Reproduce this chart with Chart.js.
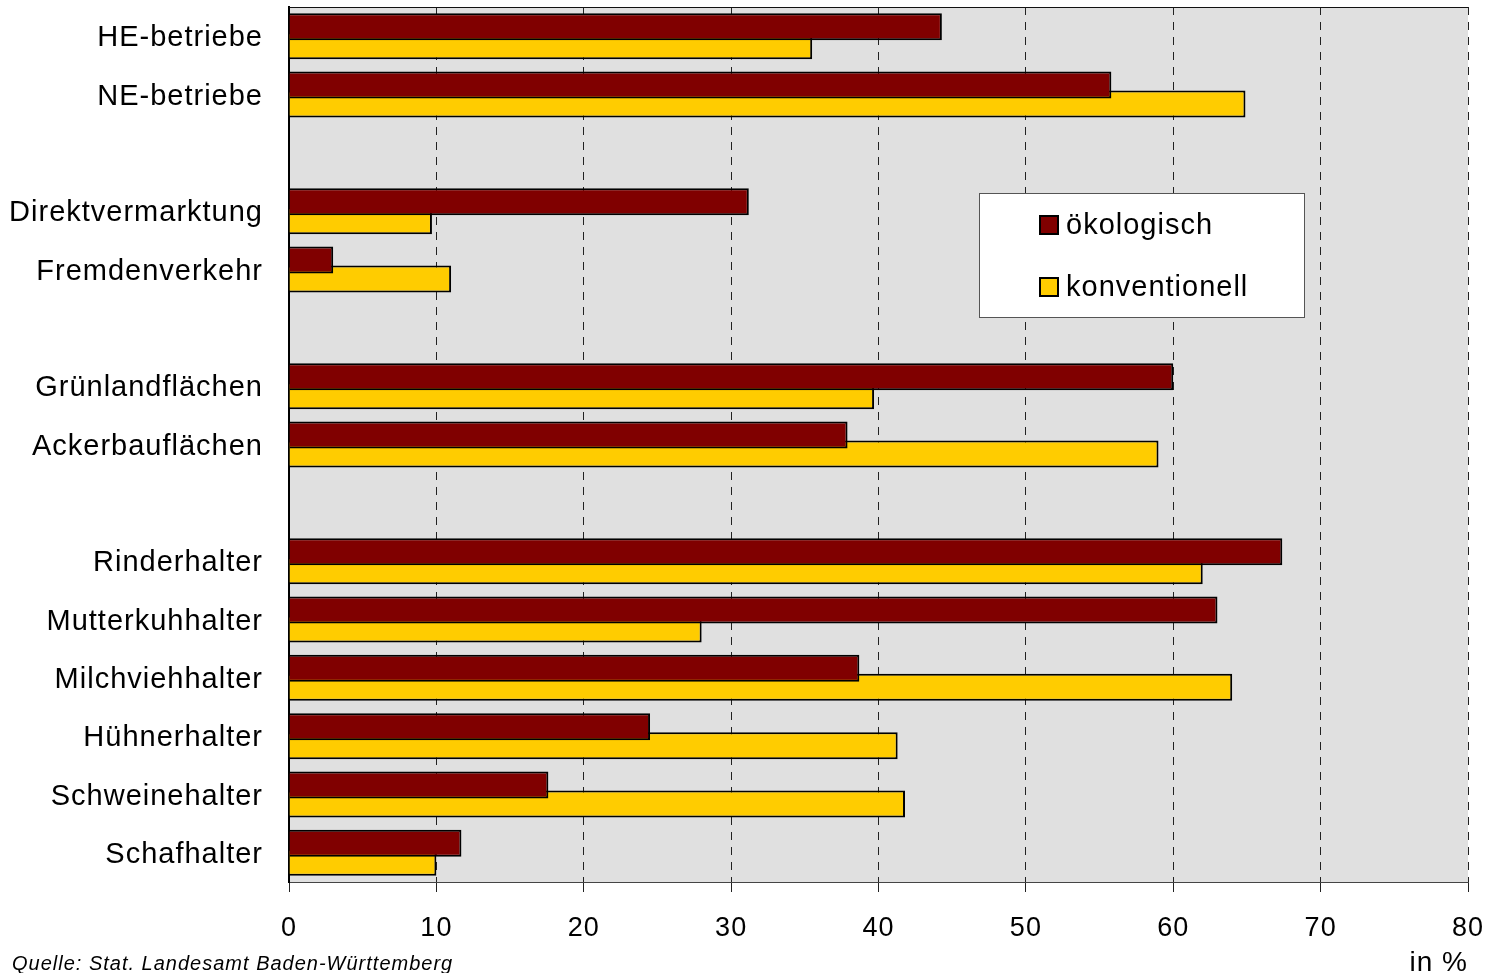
<!DOCTYPE html>
<html>
<head>
<meta charset="utf-8">
<script src="https://cdn.jsdelivr.net/npm/chart.js@4/dist/chart.umd.min.js"></script>
<style>
  html, body { margin: 0; padding: 0; background: #fff; }
  #wrap { position: relative; width: 1498px; height: 973px; }
</style>
</head>
<body>
<div id="wrap"><canvas id="myChart"></canvas></div>
<script>
// categories, empty strings are the gaps between groups
const categories = [
  "HE-betriebe", "NE-betriebe", "",
  "Direktvermarktung", "Fremdenverkehr", "",
  "Grünlandflächen", "Ackerbauflächen", "",
  "Rinderhalter", "Mutterkuhhalter", "Milchviehhalter",
  "Hühnerhalter", "Schweinehalter", "Schafhalter"
];
const oekologisch = [44.3, 55.8, null, 31.2, 3.0, null, 60.0, 37.9, null, 67.4, 63.0, 38.7, 24.5, 17.6, 11.7];
const konventionell = [35.5, 64.9, null, 9.7, 11.0, null, 39.7, 59.0, null, 62.0, 28.0, 64.0, 41.3, 41.8, 10.0];
const xTicks = [0, 10, 20, 30, 40, 50, 60, 70, 80];
const seriesNames = ["ökologisch", "konventionell"];
const axisUnit = "in %";
const sourceNote = "Quelle: Stat. Landesamt Baden-Württemberg";

const FONT = "'Liberation Sans', Arial, sans-serif";
Chart.defaults.font.family = FONT;
Chart.defaults.color = "#000";

// the original text is a bit spread out
const spacing = {
  id: "spacing",
  beforeLayout(chart) { chart.ctx.letterSpacing = "1px"; },
  beforeDraw(chart) { chart.ctx.letterSpacing = "1px"; },
};

// gray plot area plus the solid line on top
const plotFrame = {
  id: "plotFrame",
  beforeDraw(chart) {
    const { ctx, chartArea: a } = chart;
    ctx.save();
    ctx.fillStyle = "#e0e0e0";
    ctx.fillRect(a.left, a.top, a.right - a.left, a.bottom - a.top);
    ctx.restore();
  },
  afterDraw(chart) {
    const { ctx, chartArea: a } = chart;
    ctx.save();
    ctx.strokeStyle = "#111";
    ctx.lineWidth = 1;
    ctx.beginPath();
    ctx.moveTo(a.left, a.top + 0.5);
    ctx.lineTo(a.right, a.top + 0.5);
    ctx.stroke();
    ctx.restore();
  }
};

// legend box inside the plot, like the original
const boxLegend = {
  id: "boxLegend",
  afterDraw(chart) {
    const ctx = chart.ctx;
    ctx.save();
    ctx.fillStyle = "#fff";
    ctx.fillRect(979, 193, 325, 124);
    ctx.strokeStyle = "#555";
    ctx.lineWidth = 1;
    ctx.strokeRect(979.5, 193.5, 325, 124);
    chart.data.datasets.forEach((ds, i) => {
      const y = 215 + i * 62;
      ctx.fillStyle = ds.backgroundColor;
      ctx.fillRect(1039, y, 20, 20);
      ctx.strokeStyle = "#000";
      ctx.lineWidth = 2;
      ctx.strokeRect(1040, y + 1, 18, 18);
      ctx.fillStyle = "#000";
      ctx.font = "29px " + FONT;
      ctx.textBaseline = "middle";
      ctx.textAlign = "left";
      ctx.fillText(ds.label, 1066, y + 11);
    });
    ctx.font = "italic 20px " + FONT;
    ctx.textBaseline = "alphabetic";
    ctx.fillText(sourceNote, 12, 970);
    ctx.restore();
  }
};

new Chart(document.getElementById("myChart"), {
  type: "bar",
  data: {
    labels: categories,
    datasets: [
      {
        label: seriesNames[0],
        data: oekologisch,
        backgroundColor: "#800000",
        borderColor: "#000",
        borderWidth: 2,
        categoryPercentage: 0.651,
        barPercentage: 1.42,
      },
      {
        label: seriesNames[1],
        data: konventionell,
        backgroundColor: "#ffcc00",
        borderColor: "#000",
        borderWidth: 2,
        categoryPercentage: 0.651,
        barPercentage: 1.42,
      },
    ],
  },
  options: {
    indexAxis: "y",
    responsive: true,
    maintainAspectRatio: false,
    animation: false,
    layout: { padding: { top: 7, right: 30, left: 0, bottom: 0 } },
    plugins: {
      legend: { display: false },
      tooltip: { enabled: false },
    },
    scales: {
      x: {
        type: "linear",
        min: xTicks[0],
        max: xTicks[xTicks.length - 1],
        afterBuildTicks: (s) => { s.ticks = xTicks.map((v) => ({ value: v })); },
        afterFit: (s) => { s.height = 91; s.paddingLeft = 0; s.paddingRight = 0; },
        grid: {
          color: (c) => (c.tick && c.tick.value === 0 ? "rgba(0,0,0,0)" : "#222"),
          lineWidth: 1,
          tickLength: 10,
          tickColor: "#222",
          tickBorderDash: [],
        },
        border: { display: true, color: "#444", width: 1, dash: [8, 7] },
        ticks: { font: { size: 27 }, padding: 20, color: "#000" },
        title: {
          display: true,
          text: axisUnit,
          align: "end",
          font: { size: 28, lineHeight: 1.0 },
          padding: { top: 0, bottom: -4 },
          color: "#000",
        },
      },
      y: {
        type: "category",
        afterFit: (s) => { s.width = 289; s.paddingTop = 0; s.paddingBottom = 0; },
        grid: { display: false, drawTicks: false },
        border: { display: true, color: "#000", width: 2 },
        ticks: { autoSkip: false, font: { size: 29 }, padding: 26, labelOffset: 2, color: "#000" },
      },
    },
  },
  plugins: [spacing, plotFrame, boxLegend],
});
</script>
</body>
</html>
